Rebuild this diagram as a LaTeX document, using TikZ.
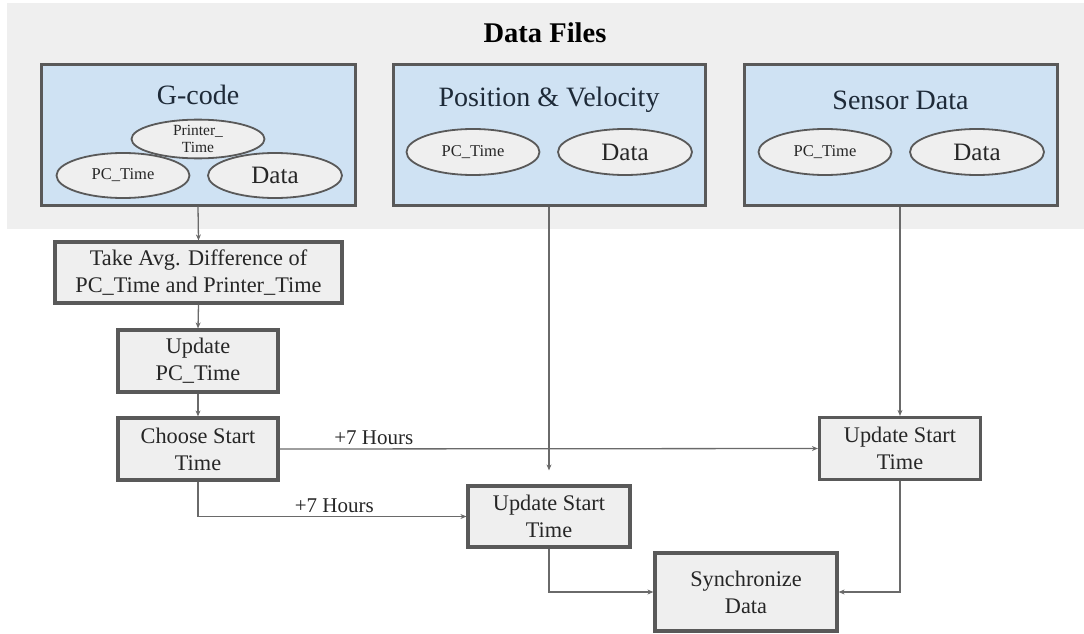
\documentclass[tikz,border=0pt]{standalone}
\usepackage{fontspec}
\setmainfont{Liberation Serif}
\usetikzlibrary{arrows.meta,shapes.geometric}
\definecolor{panelgray}{HTML}{EFEFEF}
\definecolor{boxblue}{HTML}{CFE2F3}
\definecolor{edgegray}{HTML}{595959}
\definecolor{linegray}{HTML}{6A6A6A}
\definecolor{navytext}{HTML}{1E2A38}
\tikzset{
  filebox/.style={draw=edgegray, line width=3pt, fill=boxblue, inner sep=0pt},
  stepbox/.style={draw=edgegray, line width=3.2pt, fill=panelgray, align=center,
    font=\fontsize{22.3}{27}\selectfont, text=black!85, inner sep=0pt},
  field/.style={ellipse, draw=edgegray, line width=1.8pt, fill=panelgray, inner sep=0pt,
    align=center, text=black!85},
  filetitle/.style={font=\fontsize{28}{30}\selectfont, text=navytext},
  conn/.style={draw=linegray, line width=1.3pt, -{Stealth[length=6pt,width=5pt]}},
  hours/.style={font=\fontsize{21}{22}\selectfont, text=black!85}
}
\begin{document}
\begin{tikzpicture}[x=1pt,y=-1pt]
\useasboundingbox (0,0) rectangle (1084,634);
\fill[panelgray] (7,3) rectangle (1084,229);
\node[font=\bfseries\fontsize{28.5}{30}\selectfont] (title) at (545,33) {Data Files};

% file boxes
\node[filebox, minimum width=314pt, minimum height=140pt] (gcode) at (198,135) {};
\node[filebox, minimum width=312pt, minimum height=140pt] (posv) at (549,135) {};
\node[filebox, minimum width=313pt, minimum height=140pt] (sens) at (900.5,135) {};

\node[filetitle] (gcodet) at (198,95) {G-code};
\node[filetitle] (posvt) at (549,100) {Position \& Velocity};
\node[filetitle] (senst) at (900.5,100) {Sensor Data};

\node[field, minimum width=133pt, minimum height=37pt, font=\fontsize{15.5}{17}\selectfont] (gpt) at (198,139) {Printer\_\\Time};
\node[field, minimum width=133pt, minimum height=45pt, font=\fontsize{16.5}{18}\selectfont] (gpc) at (123,175.5) {PC\_Time};
\node[field, minimum width=134pt, minimum height=45pt, font=\fontsize{25}{26}\selectfont] (gdata) at (275,175.5) {Data};

\node[field, minimum width=133pt, minimum height=46pt, font=\fontsize{16.5}{18}\selectfont] (ppc) at (473,152) {PC\_Time};
\node[field, minimum width=134pt, minimum height=46pt, font=\fontsize{25}{26}\selectfont] (pdata) at (625,152) {Data};

\node[field, minimum width=133pt, minimum height=46pt, font=\fontsize{16.5}{18}\selectfont] (spc) at (825,152) {PC\_Time};
\node[field, minimum width=134pt, minimum height=46pt, font=\fontsize{25}{26}\selectfont] (sdata) at (977,152) {Data};

% process boxes
\node[stepbox, minimum width=287pt, minimum height=61pt] (avg) at (198.5,272.5) {Take Avg. Difference of\\PC\_Time and Printer\_Time};
\node[stepbox, minimum width=160pt, minimum height=62pt] (upc) at (198,361) {Update\\PC\_Time};
\node[stepbox, minimum width=160pt, minimum height=62pt] (choose) at (198,449) {Choose Start\\Time};
\node[stepbox, minimum width=162pt, minimum height=61pt] (updm) at (549,516.5) {Update Start\\Time};
\node[stepbox, minimum width=161pt, minimum height=62pt] (updr) at (900,448.5) {Update Start\\Time};
\node[stepbox, minimum width=182pt, minimum height=78pt] (sync) at (746,592) {Synchronize\\Data};

% connectors
\draw[conn] (gcode.south) -- (avg.north);
\draw[conn] (avg.south) -- (upc.north);
\draw[conn] (upc.south) -- (choose.north);
\draw[conn, shorten >=14pt] (posv.south -| updm.north) -- (updm.north);
\draw[conn] (sens.south -| updr.north) -- (updr.north);
\draw[conn] (choose.east) -- node[hours, pos=0.175, above=0pt] (h1) {+7 Hours} (updr.west);
\draw[conn] (choose.south) |- node[hours, pos=0.754, above=0pt] (h2) {+7 Hours} (updm.west);
\draw[conn] (updm.south) |- (sync.west);
\draw[conn] (updr.south) |- (sync.east);
\end{tikzpicture}
\end{document}
